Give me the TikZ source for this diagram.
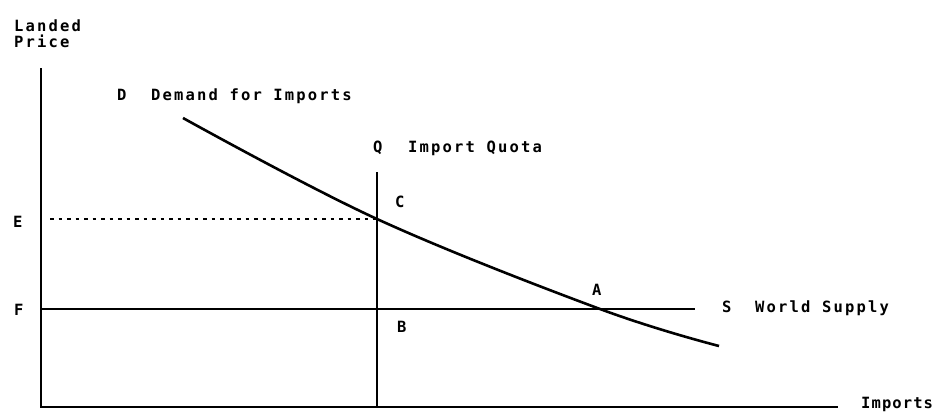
\documentclass[tikz,border=0pt]{standalone}
\usepackage{fontspec}
\newfontfamily\plotfont[LetterSpace=14]{DejaVu Sans Mono}
\newfontfamily\plotfontnarrow[LetterSpace=7]{DejaVu Sans Mono}
\begin{document}
\begin{tikzpicture}[x=1pt,y=-1pt,
  lbl/.style={anchor=base west,inner sep=0pt,font=\plotfont\bfseries\fontsize{15.5}{16}\selectfont},
  axisline/.style={line width=2.4pt},
  curve/.style={line width=2.6pt},
  guide/.style={line width=2pt,dash pattern=on 3.5pt off 5pt}]
\useasboundingbox (0,0) rectangle (940,413);
% axes
\coordinate (ytop) at (41,68);
\coordinate (orig) at (41,407);
\coordinate (xend) at (838,407);
\draw[axisline] (ytop) -- (orig) -- (xend);
% quota line
\coordinate (qtop) at (377,172);
\coordinate (qbot) at (377,407);
\draw[axisline] (qtop) -- (qbot);
% world supply
\coordinate (sl) at (41,309);
\coordinate (sr) at (695,309);
\draw[line width=2.2pt] (sl) -- (sr);
% dashed E line
\coordinate (el) at (50,219);
\coordinate (ec) at (377,219);
\draw[guide] (el) -- (ec);
% demand curve
\draw[curve] plot[smooth,tension=0.6] coordinates {(183,118) (377,219) (600,309) (719,346)};
% labels
\node[lbl] (landed) at (14,31) {Landed};
\node[lbl] (price) at (14,47) {Price};
\node[lbl] (dl) at (117,100) {D};
\node[lbl] (dtext) at (151,100) {Demand for Imports};
\node[lbl] (ql) at (373,152) {Q};
\node[lbl] (qtext) at (408,152) {Import Quota};
\node[lbl] (cl) at (395,207) {C};
\node[lbl] (el2) at (13,227) {E};
\node[lbl] (fl) at (14,315) {F};
\node[lbl] (bl) at (397,332) {B};
\node[lbl] (al) at (592,295) {A};
\node[lbl] (sl2) at (722,312) {S};
\node[lbl] (stext) at (755,312) {World Supply};
\node[lbl,font=\plotfontnarrow\bfseries\fontsize{15.5}{16}\selectfont] (imp) at (861,408) {Imports};
\end{tikzpicture}
\end{document}
